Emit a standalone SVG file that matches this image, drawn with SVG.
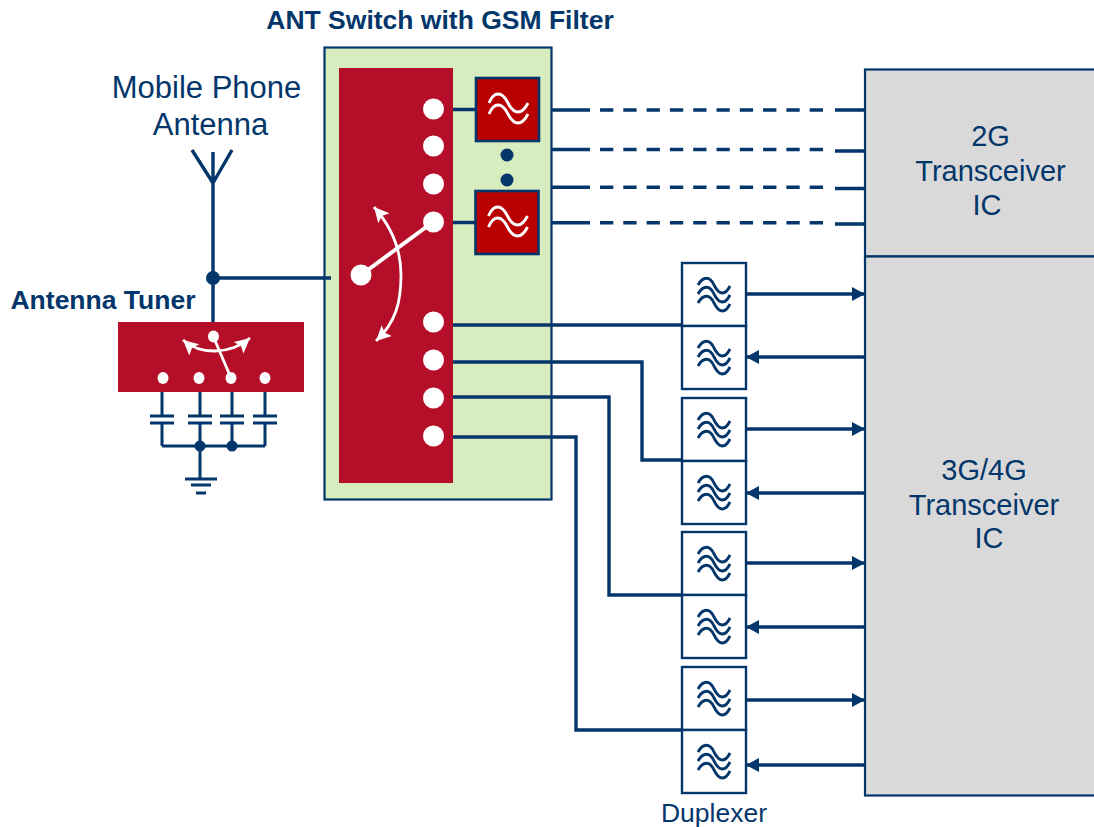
<svg xmlns="http://www.w3.org/2000/svg" width="1094" height="827" viewBox="0 0 1094 827">
<style>
text{font-family:"Liberation Sans",Arial,sans-serif;fill:#03366a;text-anchor:middle}
.t{font-size:29px}
.m{font-size:31px}
.b{font-size:26.500px;font-weight:bold}
.d{font-size:26.500px}
.w{fill:none;stroke:#03366a;stroke-width:3.400}
.s{fill:none;stroke:#03366a;stroke-width:3}
.sw{fill:none;stroke:#fff;stroke-width:2.800}
.n{fill:#03366a}
.o{fill:#fff}
.dash{stroke-dasharray:13.300 10}
.box{fill:#fff;stroke:#03366a;stroke-width:2.400}
.ic{fill:#d9d9d9;stroke:#03366a;stroke-width:2.200}
.f{fill:#b90000;stroke:#03366a;stroke-width:2.600}
</style>
<defs>
<marker id="a" markerUnits="userSpaceOnUse" markerWidth="14" markerHeight="16" refX="13" refY="7" orient="auto"><path d="M0 0L13 7L0 14z" fill="#03366a"/></marker>
<marker id="wa" markerUnits="userSpaceOnUse" markerWidth="18" markerHeight="18" refX="15" refY="7.500" orient="auto-start-reverse"><path d="M0 0L15 7.500L0 15L3 7.500z" fill="#fff"/></marker>
<path id="wv" d="M0 0C5 -12 13 -12 19 0C25 12 33 12 39 0"/>
<path id="wd" d="M0 0C5 -9 12 -9 16 0C21 10 27 11 32 1"/>
<g id="lf">
<use href="#wv" x="0" y="0" fill="none" stroke="#fff" stroke-width="2.800"/>
<use href="#wv" x="0" y="11" fill="none" stroke="#fff" stroke-width="2.800"/>
</g>
<g id="du" fill="none" stroke="#03366a" stroke-width="2.800">
<use href="#wd" x="0" y="0"/>
<use href="#wd" x="0" y="9"/>
<use href="#wd" x="0" y="18"/>
</g>
</defs>

<g id="ant-switch">
<rect x="324.500" y="47.500" width="227" height="452" fill="#d8edbf" stroke="#03366a" stroke-width="2.200"/>
<rect x="339" y="68" width="114" height="415" fill="#b50e28"/>
</g>

<g id="connectors">
<path class="w" d="M453 109.500H476M453 222.500H476"/>
<path class="w" d="M552 110H590M552 149.500H590M552 187.300H590M552 222.800H590"/>
<path class="w dash" d="M600 110H825M600 149.500H825M600 187.300H825M600 222.800H825"/>
<path class="w" d="M835 110H864M835 151H864M835 188.500H864M835 224H864"/>
<path class="w" d="M213 152V322M213 278H331M213 183L192 150M213 183L232 150"/>
<path class="w" d="M453 325H682M453 362H642V460H682M453 397H609V595H682M453 437H576V730H682"/>
<path class="w" marker-end="url(#a)" d="M746 294H865"/>
<path class="w" marker-end="url(#a)" d="M864 357H746"/>
<path class="w" marker-end="url(#a)" d="M746 429H865"/>
<path class="w" marker-end="url(#a)" d="M864 493H746"/>
<path class="w" marker-end="url(#a)" d="M746 563H865"/>
<path class="w" marker-end="url(#a)" d="M864 627H746"/>
<path class="w" marker-end="url(#a)" d="M746 700H865"/>
<path class="w" marker-end="url(#a)" d="M864 765H746"/>
<path class="s" d="M162 392V416M162 423V446M200 392V416M200 423V446M232 392V416M232 423V446M265 392V416M265 423V446M162 446H265M200 446V478"/>
<path class="s" d="M150 416H174M150 423H174M188 416H212M188 423H212M220 416H244M220 423H244M253 416H277M253 423H277M185 479H217M191 485H211M196 493H206"/>
<circle class="n" cx="213" cy="278" r="7"/>
<circle class="n" cx="200" cy="446" r="5.500"/>
<circle class="n" cx="232" cy="446" r="5.500"/>
</g>

<g id="switch-contacts">
<circle class="o" cx="433.500" cy="109" r="10.500"/>
<circle class="o" cx="433.500" cy="146" r="10.500"/>
<circle class="o" cx="433.500" cy="184" r="10.500"/>
<circle class="o" cx="433.500" cy="222" r="10.500"/>
<circle class="o" cx="433.500" cy="322" r="10.500"/>
<circle class="o" cx="433.500" cy="360" r="10.500"/>
<circle class="o" cx="433.500" cy="398" r="10.500"/>
<circle class="o" cx="433.500" cy="436" r="10.500"/>
<circle class="o" cx="361" cy="275" r="10.500"/>
<path d="M361 275L433 222" stroke="#fff" stroke-width="4" fill="none"/>
<path class="sw" marker-start="url(#wa)" marker-end="url(#wa)" d="M374 207C396 232 401 255 401 275C401 302 396 322 376 341"/>
</g>

<g id="gsm-filter-1">
<rect class="f" x="476" y="78" width="63" height="63"/>
<use href="#lf" x="489" y="103"/>
</g>
<g id="gsm-filter-2">
<rect class="f" x="475.500" y="191" width="63" height="63"/>
<use href="#lf" x="488.500" y="216"/>
</g>
<g id="ellipsis">
<circle class="n" cx="507" cy="155" r="6.500"/>
<circle class="n" cx="507" cy="180" r="6.500"/>
</g>

<g id="tuner">
<rect x="118" y="322" width="186" height="70" fill="#b50e28"/>
<path d="M213.500 337L231 378" stroke="#fff" stroke-width="2.800"/>
<path class="sw" marker-start="url(#wa)" marker-end="url(#wa)" d="M183 340C200 355 230 355 250 338"/>
<ellipse class="o" cx="213.500" cy="336.500" rx="5.500" ry="6"/>
<ellipse class="o" cx="163" cy="378" rx="5.500" ry="6"/>
<ellipse class="o" cx="199" cy="378" rx="5.500" ry="6"/>
<ellipse class="o" cx="231" cy="378" rx="5.500" ry="6"/>
<ellipse class="o" cx="265" cy="378" rx="5.500" ry="6"/>
</g>

<g id="duplexer-1">
<rect class="box" x="682" y="263" width="64" height="63"/><rect class="box" x="682" y="326" width="64" height="63"/>
<use href="#du" x="698" y="285"/><use href="#du" x="698" y="348"/>
</g>
<g id="duplexer-2">
<rect class="box" x="682" y="398" width="64" height="63"/><rect class="box" x="682" y="461" width="64" height="63"/>
<use href="#du" x="698" y="420"/><use href="#du" x="698" y="483"/>
</g>
<g id="duplexer-3">
<rect class="box" x="682" y="532" width="64" height="63"/><rect class="box" x="682" y="595" width="64" height="63"/>
<use href="#du" x="698" y="554"/><use href="#du" x="698" y="617"/>
</g>
<g id="duplexer-4">
<rect class="box" x="682" y="667" width="64" height="63"/><rect class="box" x="682" y="730" width="64" height="63"/>
<use href="#du" x="698" y="689"/><use href="#du" x="698" y="752"/>
</g>

<g id="transceiver-2g">
<rect class="ic" x="865" y="69.500" width="240" height="187"/>
<text class="t" x="990.500" y="146">2G</text>
<text class="t" x="990.500" y="181">Transceiver</text>
<text class="t" x="987" y="215">IC</text>
</g>
<g id="transceiver-3g4g">
<rect class="ic" x="865" y="256.500" width="240" height="539"/>
<text class="t" x="984" y="480">3G/4G</text>
<text class="t" x="984" y="515">Transceiver</text>
<text class="t" x="989" y="548">IC</text>
</g>

<g id="labels">
<text class="b" x="440" y="29">ANT Switch with GSM Filter</text>
<text class="m" x="206.500" y="98">Mobile Phone</text>
<text class="m" x="210.500" y="135">Antenna</text>
<text class="b" x="103" y="309">Antenna Tuner</text>
<text class="d" x="714" y="822">Duplexer</text>
</g>
</svg>
